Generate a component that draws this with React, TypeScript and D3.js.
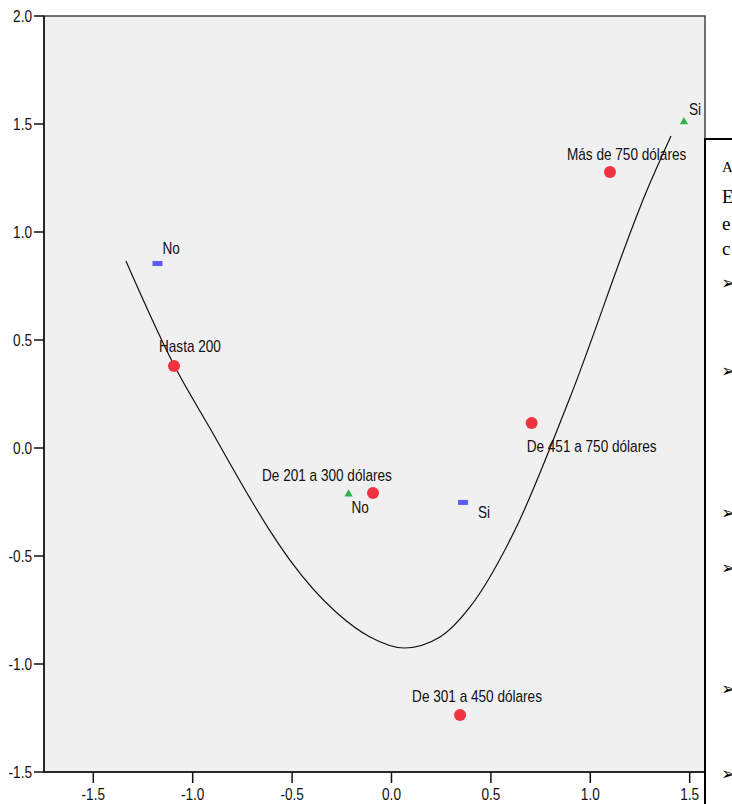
import React from "react";
import * as d3 from "d3";

// Income categories (red circles)
const incomeLabels = ["Hasta 200", "De 201 a 300 dólares", "De 301 a 450 dólares", "De 451 a 750 dólares", "Más de 750 dólares"];
const incomeX = [-1.094, -0.093, 0.345, 0.705, 1.099];
const incomeY = [0.38, -0.208, -1.236, 0.116, 1.278];

// Blue markers
const blueLabels = ["No", "Si"];
const blueX = [-1.177, 0.36];
const blueY = [0.854, -0.252];

// Green markers
const greenLabels = ["No", "Si"];
const greenX = [-0.216, 1.471];
const greenY = [-0.213, 1.51];

// Hand drawn curve
const curveX = [-1.336, -1.094, -0.903, -0.712, -0.611, -0.511, -0.274, -0.108, 0.063, 0.244, 0.395, 0.621, 0.893, 1.29, 1.406];
const curveY = [0.866, 0.384, 0.075, -0.232, -0.384, -0.519, -0.764, -0.875, -0.926, -0.875, -0.736, -0.38, 0.222, 1.204, 1.444];

const xTicks = [-1.5, -1.0, -0.5, 0.0, 0.5, 1.0, 1.5];
const yTicks = [-1.5, -1.0, -0.5, 0.0, 0.5, 1.0, 1.5, 2.0];

// label offsets (layout)
const incomeOff = [[-15, -14], [-111, -12], [-48, -13], [-5, 29], [-43, -12]];
const blueOff = [[5, -10], [15, 16]];
const greenOff = [[3, 19], [5, -7]];

const W = 732, H = 804;
const L = 44, R = 705, T = 16, B = 772;
const SX = 0.85;
const FONT = "'Liberation Sans', Arial, sans-serif";

export default function App() {
  const x = d3.scaleLinear().domain([-1.748, 1.577]).range([L, R]);
  const y = d3.scaleLinear().domain([-1.5, 2.0]).range([B, T]);
  const pts: [number, number][] = curveX.map((v, i) => [v, curveY[i]]);
  const line = d3.line<[number, number]>().x(d => x(d[0])).y(d => y(d[1])).curve(d3.curveMonotoneX);
  const tri = d3.symbol().type(d3.symbolTriangle).size(30)();

  const label = (txt: string, px: number, py: number, key: string, anchor = "start") => (
    <text key={key} transform={`translate(${px},${py}) scale(${SX},1)`} fontFamily={FONT} fontSize={16} fill="#111" textAnchor={anchor}>{txt}</text>
  );

  return (
    <svg width={W} height={H} style={{ position: "absolute", left: 0, top: 0, background: "#fff" }}>
      <rect x={L} y={T} width={R - L} height={B - T} fill="#f0f0f0" stroke="#444" strokeWidth={1.5} />
      <line x1={L} x2={L} y1={T} y2={B} stroke="#111" strokeWidth={1.5} />
      <line x1={L} x2={R} y1={B} y2={B} stroke="#111" strokeWidth={1.5} />
      {yTicks.map(t => (
        <g key={"y" + t}>
          <line x1={L - 10} x2={L} y1={y(t)} y2={y(t)} stroke="#111" strokeWidth={1.5} />
          {label(t.toFixed(1), L - 12, y(t) + 6, "yl" + t, "end")}
        </g>
      ))}
      {xTicks.map(t => (
        <g key={"x" + t}>
          <line x1={x(t)} x2={x(t)} y1={B} y2={B + 11} stroke="#111" strokeWidth={1.5} />
          {label(t.toFixed(1), x(t), B + 28, "xl" + t, "middle")}
        </g>
      ))}
      <path d={line(pts) || ""} fill="none" stroke="#111" strokeWidth={1.2} />
      {incomeX.map((v, i) => (
        <circle key={"c" + i} cx={x(v)} cy={y(incomeY[i])} r={6} fill="#ef3340" />
      ))}
      {blueX.map((v, i) => (
        <rect key={"b" + i} x={x(v) - 5} y={y(blueY[i]) - 2.5} width={10} height={5} fill="#5a5cf5" />
      ))}
      {greenX.map((v, i) => (
        <path key={"g" + i} d={tri || ""} transform={`translate(${x(v)},${y(greenY[i])})`} fill="#2fb34a" />
      ))}
      {incomeLabels.map((t, i) => label(t, x(incomeX[i]) + incomeOff[i][0], y(incomeY[i]) + incomeOff[i][1], "il" + i))}
      {blueLabels.map((t, i) => label(t, x(blueX[i]) + blueOff[i][0], y(blueY[i]) + blueOff[i][1], "bl" + i))}
      {greenLabels.map((t, i) => label(t, x(greenX[i]) + greenOff[i][0], y(greenY[i]) + greenOff[i][1], "gl" + i))}
      <rect x={705} y={139} width={120} height={700} fill="#fff" stroke="#000" strokeWidth={2} />
      <g fontFamily="'Liberation Serif', 'Times New Roman', serif" fill="#000">
        <text x={722} y={172} fontSize={15}>A</text>
        <text x={722} y={203} fontSize={19}>E</text>
        <text x={722} y={230} fontSize={19}>e</text>
        <text x={722} y={255} fontSize={19}>c</text>
      </g>
      <g fontFamily="'DejaVu Sans', sans-serif" fontSize={18} fill="#000">
        {[289, 377, 519, 574, 695, 780].map((yy, i) => (
          <text key={"ar" + i} x={721} y={yy}>➢</text>
        ))}
      </g>
    </svg>
  );
}
